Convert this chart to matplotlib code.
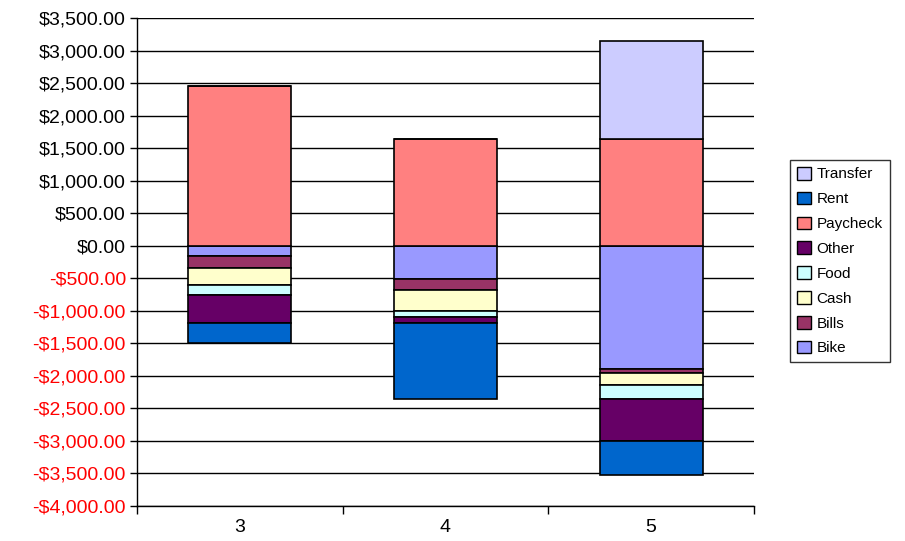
import matplotlib
matplotlib.use("Agg")
import matplotlib.pyplot as plt
import numpy as np
from matplotlib.ticker import FuncFormatter, MultipleLocator
from matplotlib.patches import Patch

plt.rcParams['font.family'] = ['Liberation Sans', 'DejaVu Sans']

categories = ["3", "4", "5"]
series_names = ["Bike", "Bills", "Cash", "Food", "Other", "Paycheck", "Rent", "Transfer"]
bike = [-154, -513, -1897]
bills = [-189, -169, -62]
cash = [-257, -318, -185]
food = [-154, -97, -215]
other = [-435, -98, -636]
paycheck = [2450, 1640, 1640]
rent = [-308, -1164, -533]
transfer = [0, 0, 1500]
colors = ["#9999FF", "#993366", "#FFFFCC", "#CCFFFF", "#660066", "#FF8080", "#0066CC", "#CCCCFF"]

series = [bike, bills, cash, food, other, paycheck, rent, transfer]

fig = plt.figure(figsize=(9.05, 5.41), dpi=100)
ax = fig.add_axes([137/905, 1-506/541, (754-137)/905, (506-18)/541])

x = np.arange(len(categories))
pos_base = np.zeros(len(categories))
neg_base = np.zeros(len(categories))
for vals, col in zip(series, colors):
    v = np.array(vals, dtype=float)
    bottoms = np.where(v >= 0, pos_base, neg_base)
    ax.bar(x, v, width=0.5, bottom=bottoms, color=col, edgecolor="black", linewidth=1.2, zorder=3)
    pos_base = pos_base + np.where(v > 0, v, 0)
    neg_base = neg_base + np.where(v < 0, v, 0)

ax.set_xlim(-0.5, len(categories) - 0.5)
ax.set_ylim(-4000, 3500)
ax.yaxis.set_major_locator(MultipleLocator(500))
ax.grid(axis="y", color="black", linewidth=1, zorder=0)

def fmt(v, pos):
    if v < 0:
        return "-${:,.2f}".format(-v)
    return "${:,.2f}".format(v)
ax.yaxis.set_major_formatter(FuncFormatter(fmt))
ax.tick_params(axis="y", labelsize=14, length=5, width=1, direction="out", pad=3)
fig.canvas.draw()
for lab, val in zip(ax.get_yticklabels(), ax.get_yticks()):
    lab.set_color("red" if val < 0 else "black")

ax.set_xticks(x)
ax.set_xticklabels(categories, fontsize=14)
ax.set_xticks(np.arange(-0.5, len(categories)), minor=True)
ax.tick_params(axis="x", which="major", length=0, pad=9)
ax.tick_params(axis="x", which="minor", length=6, width=1, direction="out")

for s in ["top", "right"]:
    ax.spines[s].set_visible(False)
ax.spines["left"].set_linewidth(1)
ax.spines["bottom"].set_linewidth(1)

handles = [Patch(facecolor=c, edgecolor="black", label=n) for n, c in zip(series_names, colors)]
handles = handles[::-1]
leg = fig.legend(handles=handles, loc="upper left", bbox_to_anchor=(790/905, 1-160/541),
                 frameon=True, fancybox=False, edgecolor="black", fontsize=11,
                 handlelength=0.9, handleheight=0.9, handletextpad=0.4, labelspacing=0.67,
                 borderpad=0.45, borderaxespad=0)
leg.get_frame().set_linewidth(1)

fig.savefig("out.png", dpi=100)
